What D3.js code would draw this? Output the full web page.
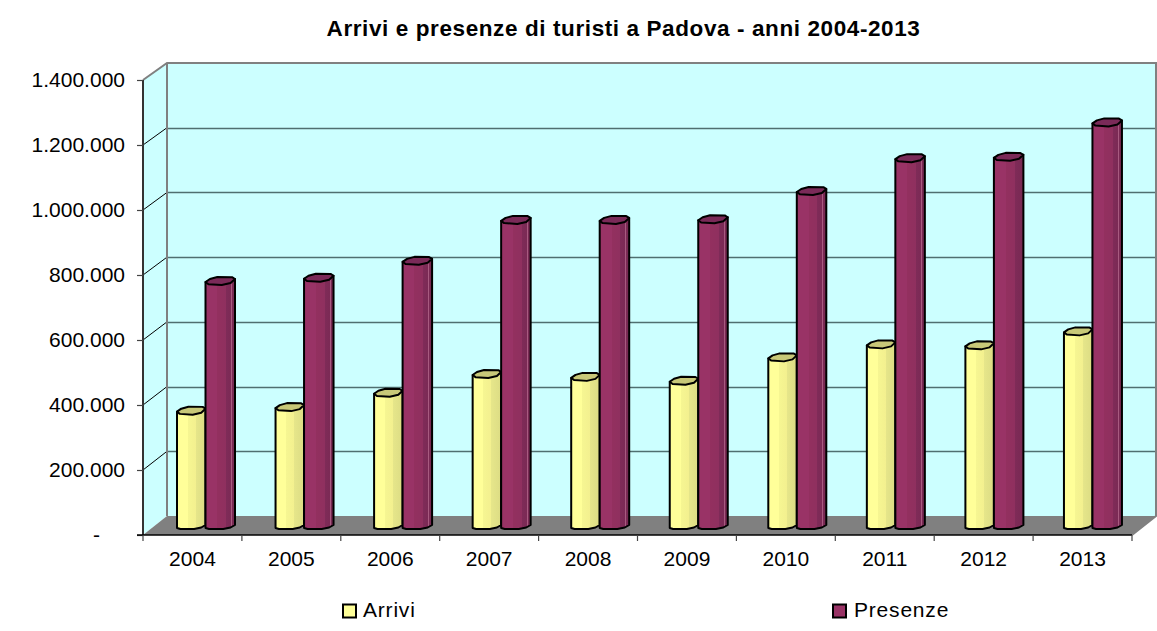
<!DOCTYPE html>
<html><head><meta charset="utf-8">
<script src="https://cdn.jsdelivr.net/npm/d3@7/dist/d3.min.js"></script>
<style>html,body{margin:0;padding:0;background:#fff}svg{display:block}text{font-family:"Liberation Sans",Arial,sans-serif;fill:#000}</style>
</head><body><svg id="c" width="1157" height="631"></svg>
<script>
const years=["2004","2005","2006","2007","2008","2009","2010","2011","2012","2013"];
const arrivi=[361000,372000,416000,474000,465000,453000,525000,565000,562000,605000];
const presenze=[760000,770000,822000,948000,948000,950000,1037000,1138000,1142000,1248000];
const yTicks=[0,200000,400000,600000,800000,1000000,1200000,1400000];
const yLabels=["-","200.000","400.000","600.000","800.000","1.000.000","1.200.000","1.400.000"];
const seriesNames=["Arrivi","Presenze"];
const titleText="Arrivi e presenze di turisti a Padova - anni 2004-2013";

const svg=d3.select("#c");
const L=143,R=1132,B=535,T=80,DX=24,DY=-19;
const y=d3.scaleLinear().domain([0,1400000]).range([B,T]);
const x=d3.scaleBand().domain(years).range([L,R]);
const xBars=d3.scaleBand().domain(years).range([L,1128.5]);
const defs=svg.append("defs");
function grad(id,stops){const g=defs.append("linearGradient").attr("id",id);
 stops.forEach(s=>{g.append("stop").attr("offset",s[0]).attr("stop-color",s[1]);});}
grad("gA",[[0,"#ffff99"],[.38,"#ffff99"],[.38,"#f6f692"],[.66,"#f3f08f"],[.66,"#e6e68a"],[1,"#dcdc84"]]);
grad("gP",[[0,"#993366"],[.4,"#993366"],[.4,"#93305f"],[.7,"#8f305f"],[.7,"#7f2b58"],[.87,"#7b2a55"],[.87,"#a85a80"],[.9,"#a85a80"],[.9,"#7b2a55"],[1,"#742850"]]);

const line=d3.line();
svg.append("path").attr("d",line([[L+DX,T+DY+2],[R+DX,T+DY+2],[R+DX,B+DY],[L+DX,B+DY]])+"Z").attr("fill","#ccffff");
svg.append("path").attr("d",line([[L,T],[L+DX,T+DY+2],[L+DX,B+DY],[L,B]])+"Z").attr("fill","#ccffff");
svg.append("path").attr("d",line([[L,B],[L+DX,B+DY],[R+DX,B+DY],[R,B]])+"Z").attr("fill","#808080");

const backY=v=>y(v)+DY+(v/1400000)*2;
yTicks.slice(1,-1).forEach(v=>{
 svg.append("line").attr("x1",L+DX).attr("x2",R+DX).attr("y1",Math.round(backY(v))+.5).attr("y2",Math.round(backY(v))+.5).attr("stroke","#4f6f70").attr("stroke-width",1.3);
 svg.append("line").attr("x1",L).attr("x2",L+DX).attr("y1",y(v)).attr("y2",backY(v)).attr("stroke","#000").attr("stroke-width",1);
});
const edge=svg.append("g").attr("fill","none").attr("stroke","#808080").attr("stroke-width",2);
edge.append("path").attr("d",line([[L,T],[L+DX,T+DY+2],[R+DX,T+DY+2],[R+DX,B+DY],[R,B]]));
edge.append("path").attr("d",line([[L+DX,T+DY+2],[L+DX,B+DY]]));

const yAxis=d3.axisLeft(y).tickValues(yTicks).tickSize(6).tickPadding(12).tickFormat((d,i)=>yLabels[i]);
const gy=svg.append("g").attr("transform",`translate(${L},0)`).call(yAxis);
const xAxis=d3.axisBottom(x).tickSize(0).tickPadding(16.5);
const gx=svg.append("g").attr("transform",`translate(0,${B})`).call(xAxis);
[gy,gx].forEach(g=>{g.selectAll("text").style("font-size","21px").attr("fill","#000");
 g.select(".domain").attr("stroke","#333").attr("stroke-width",2);
 g.selectAll("line").attr("stroke","#444").attr("stroke-width",1.2);});
gy.select(".domain").attr("d",`M0,${T}V${B}`);
gy.select(".tick text").attr("x",-43);
gx.select(".domain").attr("d",`M${L-6},0H${R}`).attr("stroke","#000").attr("stroke-width",1.5);
const xEdges=d3.range(years.length+1).map(i=>L+i*x.bandwidth());
svg.append("g").selectAll("line").data(xEdges).join("line")
 .attr("x1",d=>d).attr("x2",d=>d).attr("y1",B).attr("y2",B+6).attr("stroke","#444").attr("stroke-width",1.2);

const off=34,baseShift=-6;
function drawBar(g,xl,w,v,fill,topFill){
 const t=y(v)+baseShift,b=y(0)+baseShift,r=xl+w;
 const body=[[xl,t],[xl,b-1],[xl+w*.12,b],[xl+w*.6,b],[xl+w*.85,b-1.5],[r,b-4],[r,t-3]];
 g.append("path").attr("d",line(body)+"Z").attr("fill",fill).attr("stroke","#000").attr("stroke-width",2).attr("stroke-linejoin","round");
 const top=[[xl,t],[xl+w*.1,t+2.2],[xl+w*.55,t+3],[xl+w*.85,t+1],[r,t-3],[xl+w*.9,t-4.8],[xl+w*.4,t-5],[xl+w*.15,t-3]];
 g.append("path").attr("d",line(top)+"Z").attr("fill",topFill).attr("stroke","#000").attr("stroke-width",2).attr("stroke-linejoin","round");
}
const gb=svg.append("g");
years.forEach((yr,i)=>{
 const x0=xBars(yr)+off;
 drawBar(gb,x0,28.5,arrivi[i],"url(#gA)","#c8c878");
 drawBar(gb,x0+28.5,29.5,presenze[i],"url(#gP)","#7a2a58");
});

svg.append("text").attr("x",623.5).attr("y",36).attr("text-anchor","middle").attr("font-weight","bold").style("font-size","22.5px").style("letter-spacing","0.6px").text(titleText);

const legX=[343,833],legC=["#ffff99","#993366"],legT=[363,854];
seriesNames.forEach((n,i)=>{
 svg.append("rect").attr("x",legX[i]).attr("y",604.5).attr("width",13).attr("height",13).attr("fill",legC[i]).attr("stroke","#000").attr("stroke-width",2);
 svg.append("text").attr("x",legT[i]).attr("y",617).style("font-size","21px").style("letter-spacing","0.8px").text(n);
});
</script></body></html>
